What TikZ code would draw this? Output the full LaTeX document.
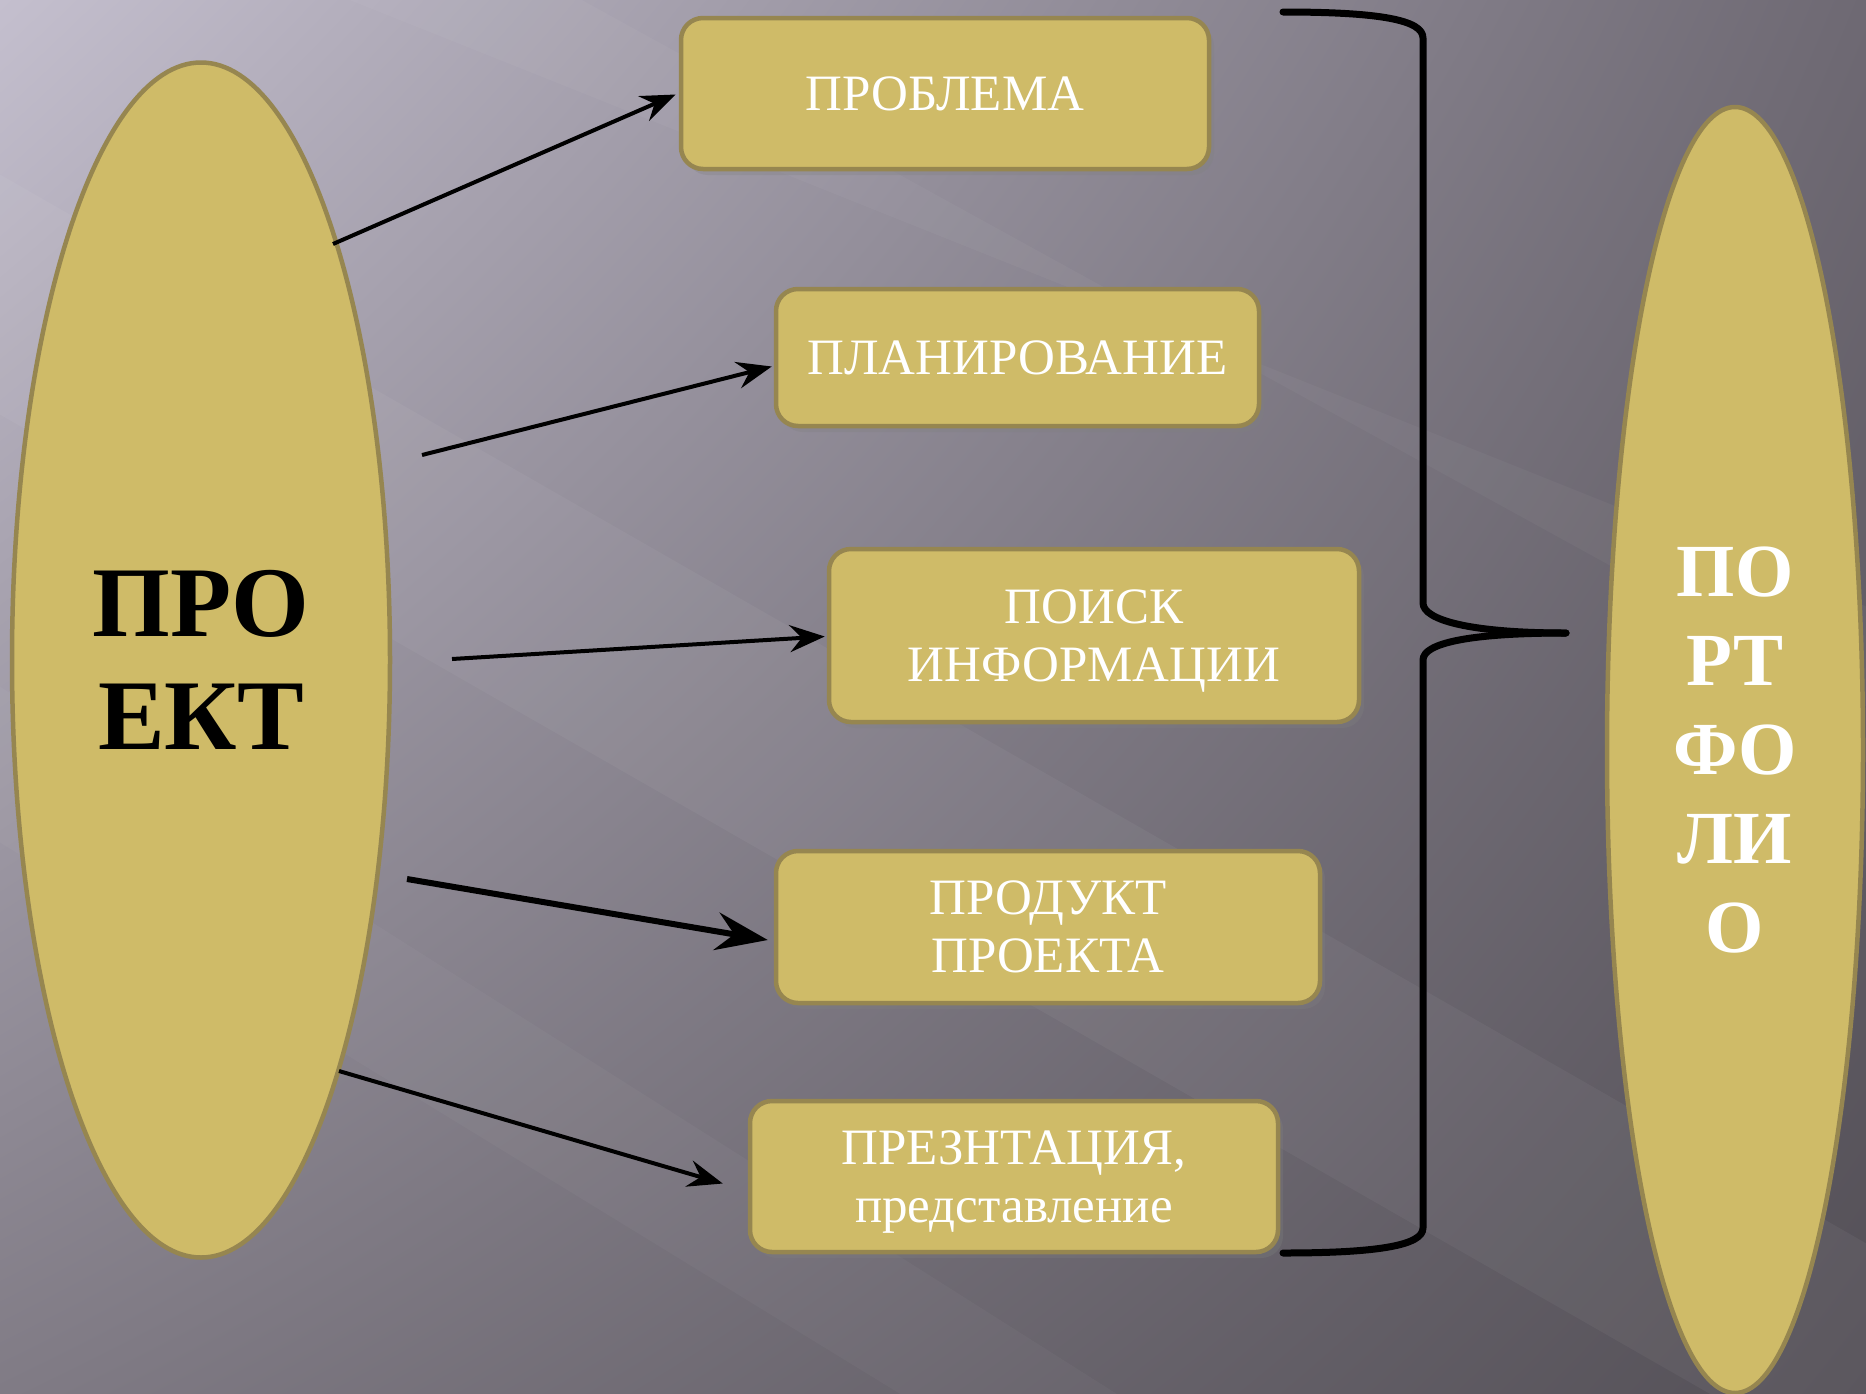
\documentclass[tikz,border=0pt]{standalone}
\usepackage{fontspec}
\setmainfont{Liberation Serif}
\usetikzlibrary{shapes.geometric,arrows.meta,calc,shadows,shadings}
\definecolor{gold}{RGB}{207,187,104}
\definecolor{goldline}{RGB}{150,134,80}
\definecolor{bgul}{RGB}{196,191,206}
\definecolor{bgur}{RGB}{110,105,115}
\definecolor{bgll}{RGB}{128,123,133}
\definecolor{bglr}{RGB}{84,80,87}
\tikzset{
  stagebox/.style={draw=goldline, line width=4.5pt, fill=gold, rounded corners=22pt,
    text=white, align=center, inner sep=0pt,
    font=\fontsize{51}{58}\selectfont,
    drop shadow={opacity=0.3, shadow xshift=5pt, shadow yshift=-6pt}},
  bigoval/.style={ellipse, draw=goldline, line width=4.5pt, fill=gold, inner sep=0pt, align=center},
  arr/.style={line width=4pt, -{Stealth[length=35pt,width=27pt,inset=12pt]}},
  bigarr/.style={line width=6pt, -{Stealth[length=52pt,width=38pt,inset=18pt]}},
  bracepath/.style={line width=7pt, line cap=round, line join=round},
}
\begin{document}
\begin{tikzpicture}[x=1pt,y=-1pt]
\useasboundingbox (0,0) rectangle (1866,1393);
\shade[upper left=bgul, upper right=bgur, lower left=bgll, lower right=bglr] (0,0) rectangle (1866,1393);
% soft light diagonal streaks (run across the whole picture)
\fill[white, opacity=0.045] (-200,60) -- (-200,300) -- (2000,1560) -- (2000,1320) -- cycle;
\fill[white, opacity=0.035] (100,-100) -- (400,-100) -- (2400,1000) -- (2400,820) -- cycle;
\fill[white, opacity=0.03] (-200,560) -- (-200,720) -- (1400,1700) -- (1600,1700) -- cycle;

% ellipses
\node[bigoval, minimum width=378pt, minimum height=1195pt,
  font=\bfseries\fontsize{100}{113}\selectfont, text=black] (proj) at (201,660) {ПРО\\ЕКТ};
\node[bigoval, minimum width=256pt, minimum height=1286pt,
  font=\bfseries\fontsize{75}{89}\selectfont, text=white] (port) at (1735,750) {ПО\\РТ\\ФО\\ЛИ\\О};

% boxes
\node[stagebox, minimum width=528pt, minimum height=151pt] (b1) at (945,93.5) {ПРОБЛЕМА};
\node[stagebox, minimum width=483pt, minimum height=137pt] (b2) at (1017.5,357.5) {ПЛАНИРОВАНИЕ};
\node[stagebox, minimum width=530pt, minimum height=173pt] (b3) at (1094,635.5) {\rule{0pt}{44pt}ПОИСК\\ИНФОРМАЦИИ};
\node[stagebox, minimum width=544pt, minimum height=152pt] (b4) at (1048,927) {ПРОДУКТ\\ПРОЕКТА};
\node[stagebox, minimum width=528pt, minimum height=151pt] (b5) at (1014,1176.5) {\rule{0pt}{44pt}ПРЕЗНТАЦИЯ,\\представление};

% arrow starts
\coordinate (s1) at (333,244);
\coordinate (s2) at (422,455);
\coordinate (s3) at (452,659);
\coordinate (s4) at (407,879);
\coordinate (s5) at (339,1071);

\draw[arr] (s1) -- ($(b1.west)+(-3,1)$);
\draw[arr] (s2) -- ($(b2.west)+(-2,9)$);
\draw[arr] (s3) -- ($(b3.west)+(-2,1)$);
\draw[bigarr] (s4) -- ($(b4.west)+(-6,13)$);
\draw[arr] (s5) -- ($(b5.west)+(-25,7)$);

% brace
\coordinate (bt) at (1283,12);
\coordinate (bb) at (1283,1253);
\coordinate (btip) at (1566,633);
\draw[bracepath] (bt) .. controls (1380,12) and (1423,20) .. (1423,38)
  -- (1423,603) .. controls (1423,620) and (1470,633) .. (btip);
\draw[bracepath] (btip) .. controls (1470,633) and (1423,643) .. (1423,660)
  -- (1423,1228) .. controls (1423,1245) and (1380,1253) .. (bb);
\end{tikzpicture}
\end{document}
